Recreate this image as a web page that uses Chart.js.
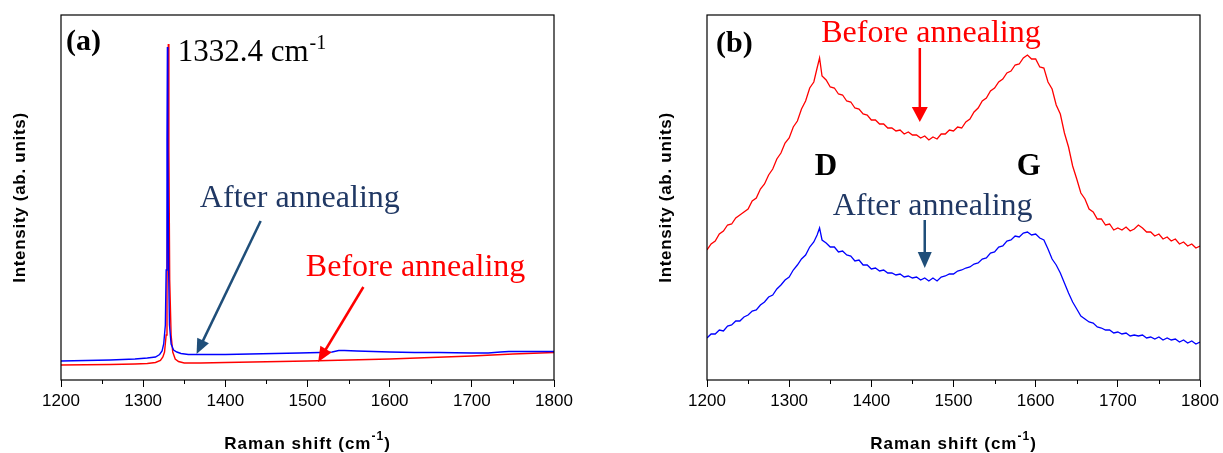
<!DOCTYPE html>
<html lang="en">
<head>
<meta charset="UTF-8">
<title>Raman spectra before and after annealing</title>
<script src="https://cdn.jsdelivr.net/npm/chart.js@4.4.0/dist/chart.umd.min.js"></script>
<style>
    html, body { margin: 0; padding: 0; background: #fff; }
    .wrap { position: relative; width: 1223px; height: 453px; }
    canvas { position: absolute; top: 0; }
    #chartA { left: 0; }
    #chartB { left: 612px; }
</style>
</head>
<body>
<div class="wrap">
    <canvas id="chartA" width="612" height="453"></canvas>
    <canvas id="chartB" width="611" height="453"></canvas>
</div>

<script>
// x axis (Raman shift, cm-1)
const xTicks = [1200, 1300, 1400, 1500, 1600, 1700, 1800];
const xMinorTicks = [1250, 1350, 1450, 1550, 1650, 1750];

// panel (a): diamond line, after annealing (blue)
const shiftA_after = [1200, 1230, 1260, 1290, 1305, 1315, 1320, 1323, 1325, 1327, 1328, 1329, 1329.5, 1330, 1331, 1332, 1334, 1337, 1341, 1346, 1355, 1370, 1400, 1430, 1460, 1490, 1515, 1530, 1538, 1545, 1560, 1580, 1600, 1630, 1660, 1700, 1720, 1735, 1745, 1770, 1800];
const intA_after = [19, 19.5, 20, 21, 22, 23, 25.5, 29, 36, 55, 110, 240, 333, 240, 110, 55, 36, 30, 28, 26.5, 25.5, 25.5, 25.5, 26, 26.5, 27, 27.5, 28, 29.5, 29.5, 29, 28.5, 28, 27.5, 27.5, 27, 27, 28, 28.5, 28.5, 28.5];

// panel (a): before annealing (red)
const shiftA_before = [1200, 1230, 1260, 1290, 1305, 1315, 1321, 1324, 1326, 1328, 1329, 1330, 1330.6, 1331.3, 1332.3, 1334, 1336, 1339, 1343, 1350, 1370, 1400, 1450, 1500, 1550, 1600, 1650, 1700, 1750, 1800];
const intA_before = [15, 15.2, 15.5, 16, 16.5, 17.5, 19.5, 23, 28, 45, 90, 220, 336, 230, 100, 45, 28, 21, 18.5, 17, 17, 17.5, 18.2, 19, 20, 21, 22.5, 24, 26, 27.5];

// panel (b): D and G bands
const shiftB = [
    1200, 1205, 1210, 1215, 1220, 1225, 1230, 1235, 1240, 1245,
    1250, 1255, 1260, 1265, 1270, 1275, 1280, 1285, 1290, 1295,
    1300, 1305, 1310, 1315, 1320, 1325, 1330, 1334, 1337, 1340,
    1345, 1350, 1355, 1360, 1365, 1370, 1375, 1380, 1385, 1390,
    1395, 1400, 1405, 1410, 1415, 1420, 1425, 1430, 1435, 1440,
    1445, 1450, 1455, 1460, 1465, 1470, 1475, 1480, 1485, 1490,
    1495, 1500, 1505, 1510, 1515, 1520, 1525, 1530, 1535, 1540,
    1545, 1550, 1555, 1560, 1565, 1570, 1575, 1580, 1585, 1590,
    1595, 1600, 1605, 1610, 1615, 1620, 1625, 1630, 1635, 1640,
    1645, 1650, 1655, 1660, 1665, 1670, 1675, 1680, 1685, 1690,
    1695, 1700, 1705, 1710, 1715, 1720, 1725, 1730, 1735, 1740,
    1745, 1750, 1755, 1760, 1765, 1770, 1775, 1780, 1785, 1790,
    1795, 1800
];
const intB_before = [
    130, 136, 139, 146, 149, 155, 156, 162, 165, 168,
    171, 179, 182, 191, 196, 205, 211, 221, 227, 237,
    242, 253, 259, 271, 279, 292, 298, 312, 322, 304,
    300, 293, 292, 286, 285, 279, 278, 272, 271, 266,
    265, 260, 260, 256, 256, 252, 252, 249, 250, 246,
    248, 245, 245, 242, 244, 240, 243, 241, 246, 246,
    250, 249, 253, 252, 258, 261, 268, 272, 279, 282,
    289, 292, 298, 301, 307, 309, 315, 316, 322, 325,
    321, 321, 313, 312, 298, 291, 275, 266, 247, 233,
    214, 201, 187, 181, 171, 168, 161, 161, 155, 156,
    150, 152, 150, 153, 149, 151, 155, 152, 148, 148,
    144, 146, 141, 143, 139, 141, 136, 138, 134, 136,
    132, 134
];
const intB_after = [
    42, 46, 46, 50, 49, 54, 55, 59, 59, 63,
    65, 69, 70, 75, 78, 83, 85, 91, 95, 100,
    103, 110, 115, 121, 125, 133, 138, 145, 152, 140,
    137, 133, 133, 128, 129, 125, 124, 119, 120, 115,
    115, 111, 112, 109, 110, 107, 107, 105, 106, 103,
    104, 102, 103, 100, 102, 99, 102, 99, 103, 104,
    106, 106, 109, 110, 112, 113, 116, 117, 121, 122,
    127, 128, 133, 134, 139, 140, 144, 143, 147, 148,
    145, 146, 142, 140, 131, 121, 115, 107, 97, 87,
    78, 71, 64, 61, 58, 57, 53, 52, 50, 50,
    47, 48, 46, 47, 44, 45, 44, 45, 42, 43,
    41, 43, 40, 42, 40, 41, 38, 40, 37, 39,
    36, 38
];

const RED = '#ff0000';
const BLUE = '#0000ff';
const NAVY_TEXT = '#203864';
const NAVY_ARROW = '#1f4e79';
const SERIF = '"Liberation Serif", "Times New Roman", serif';
const SANS = '"Liberation Sans", Arial, sans-serif';

function toPoints(xs, ys) {
    return xs.map((v, i) => ({ x: v, y: ys[i] }));
}

// draws the frame, minor ticks, axis titles and the text/arrow notes
function makeOverlay(notes, arrows) {
    return {
        id: 'overlay',
        afterDraw(chart) {
            const { ctx, chartArea: a, scales: { x, y } } = chart;
            ctx.save();

            ctx.strokeStyle = '#000';
            ctx.lineWidth = 1.2;
            ctx.strokeRect(a.left, a.top, a.right - a.left, a.bottom - a.top);

            ctx.lineWidth = 1;
            ctx.beginPath();
            xMinorTicks.forEach(v => {
                const px = Math.round(x.getPixelForValue(v)) + 0.5;
                ctx.moveTo(px, a.bottom);
                ctx.lineTo(px, a.bottom + 4);
            });
            ctx.stroke();

            // x title with superscript
            ctx.fillStyle = '#000';
            ctx.textBaseline = 'alphabetic';
            ctx.letterSpacing = '1px';
            const mainFont = 'bold 17px ' + SANS;
            const supFont = 'bold 12px ' + SANS;
            ctx.font = mainFont;
            const w1 = ctx.measureText('Raman shift (cm').width;
            const w3 = ctx.measureText(')').width;
            ctx.font = supFont;
            const w2 = ctx.measureText('-1').width;
            const tx = (a.left + a.right) / 2 - (w1 + w2 + w3) / 2;
            const ty = 449;
            ctx.textAlign = 'left';
            ctx.font = mainFont;
            ctx.fillText('Raman shift (cm', tx, ty);
            ctx.font = supFont;
            ctx.fillText('-1', tx + w1, ty - 9);
            ctx.font = mainFont;
            ctx.fillText(')', tx + w1 + w2, ty);

            // y title
            ctx.letterSpacing = '0.7px';
            ctx.save();
            ctx.translate(a.left - 41, (a.top + a.bottom) / 2);
            ctx.rotate(-Math.PI / 2);
            ctx.textAlign = 'center';
            ctx.textBaseline = 'middle';
            ctx.font = 'bold 17px ' + SANS;
            ctx.fillText('Intensity (ab. units)', 0, 0);
            ctx.restore();
            ctx.letterSpacing = '0px';

            notes.forEach(n => {
                const px = x.getPixelForValue(n.x);
                const py = y.getPixelForValue(n.y);
                ctx.fillStyle = n.color;
                ctx.textAlign = 'left';
                ctx.textBaseline = 'alphabetic';
                ctx.font = n.font;
                ctx.fillText(n.text, px, py);
                if (n.sup) {
                    const w = ctx.measureText(n.text).width;
                    ctx.font = n.supFont;
                    ctx.fillText(n.sup, px + w + 1, py - 12);
                }
            });

            arrows.forEach(ar => {
                const x1 = x.getPixelForValue(ar.from[0]), y1 = y.getPixelForValue(ar.from[1]);
                const x2 = x.getPixelForValue(ar.to[0]), y2 = y.getPixelForValue(ar.to[1]);
                const len = Math.hypot(x2 - x1, y2 - y1);
                const ux = (x2 - x1) / len, uy = (y2 - y1) / len;
                const bx = x2 - ux * ar.head, by = y2 - uy * ar.head;
                ctx.strokeStyle = ar.color;
                ctx.fillStyle = ar.color;
                ctx.lineWidth = ar.width;
                ctx.beginPath();
                ctx.moveTo(x1, y1);
                ctx.lineTo(bx + ux, by + uy);
                ctx.stroke();
                ctx.beginPath();
                ctx.moveTo(x2, y2);
                ctx.lineTo(bx - uy * ar.half, by + ux * ar.half);
                ctx.lineTo(bx + uy * ar.half, by - ux * ar.half);
                ctx.closePath();
                ctx.fill();
            });

            ctx.restore();
        }
    };
}

function baseOptions(pad) {
    return {
        responsive: false,
        animation: false,
        layout: { padding: { left: pad.left, top: 15, right: pad.right, bottom: 0 } },
        plugins: { legend: { display: false }, tooltip: { enabled: false } },
        elements: { point: { radius: 0 }, line: { tension: 0 } },
        scales: {
            x: {
                type: 'linear',
                min: 1200,
                max: 1800,
                afterBuildTicks: s => { s.ticks = xTicks.map(v => ({ value: v })); },
                afterFit: s => { s.height = 73; },
                grid: { display: true, drawOnChartArea: false, drawTicks: true, tickLength: 7, color: '#000', tickColor: '#000', lineWidth: 1 },
                border: { display: false },
                ticks: {
                    color: '#000',
                    font: { family: SANS, size: 17 },
                    padding: 4,
                    maxRotation: 0,
                    autoSkip: false,
                    callback: v => String(v)
                }
            },
            y: { display: false, min: 0, max: 365 }
        }
    };
}

const notesA = [
    { text: '(a)', x: 1206, y: 330, font: 'bold 30px ' + SERIF, color: '#000' },
    { text: '1332.4 cm', sup: '-1', x: 1342, y: 319, font: '31px ' + SERIF, supFont: '20px ' + SERIF, color: '#000' },
    { text: 'After annealing', x: 1369, y: 173, font: '32px ' + SERIF, color: NAVY_TEXT },
    { text: 'Before annealing', x: 1498, y: 104, font: '32px ' + SERIF, color: RED }
];
const arrowsA = [
    { from: [1443, 159], to: [1365, 26], color: NAVY_ARROW, width: 2.5, head: 15, half: 6.5 },
    { from: [1568, 93], to: [1513, 18], color: RED, width: 2.5, head: 15, half: 6.5 }
];

const notesB = [
    { text: '(b)', x: 1211, y: 328, font: 'bold 30px ' + SERIF, color: '#000' },
    { text: 'Before annealing', x: 1339, y: 338, font: '32px ' + SERIF, color: RED },
    { text: 'D', x: 1331, y: 205, font: 'bold 31px ' + SERIF, color: '#000' },
    { text: 'G', x: 1577, y: 205, font: 'bold 31px ' + SERIF, color: '#000' },
    { text: 'After annealing', x: 1353, y: 165, font: '32px ' + SERIF, color: NAVY_TEXT }
];
const arrowsB = [
    { from: [1459, 332], to: [1459, 258], color: RED, width: 2.5, head: 15, half: 8 },
    { from: [1465, 160], to: [1465, 112], color: NAVY_ARROW, width: 2.5, head: 16, half: 7 }
];

new Chart(document.getElementById('chartA'), {
    type: 'line',
    data: {
        datasets: [
            { label: 'After annealing', data: toPoints(shiftA_after, intA_after), borderColor: BLUE, borderWidth: 1.4 },
            { label: 'Before annealing', data: toPoints(shiftA_before, intA_before), borderColor: RED, borderWidth: 1.4 }
        ]
    },
    options: baseOptions({ left: 61, right: 58 }),
    plugins: [makeOverlay(notesA, arrowsA)]
});

new Chart(document.getElementById('chartB'), {
    type: 'line',
    data: {
        datasets: [
            { label: 'After annealing', data: toPoints(shiftB, intB_after), borderColor: BLUE, borderWidth: 1.3 },
            { label: 'Before annealing', data: toPoints(shiftB, intB_before), borderColor: RED, borderWidth: 1.3 }
        ]
    },
    options: baseOptions({ left: 95, right: 23 }),
    plugins: [makeOverlay(notesB, arrowsB)]
});
</script>
</body>
</html>
